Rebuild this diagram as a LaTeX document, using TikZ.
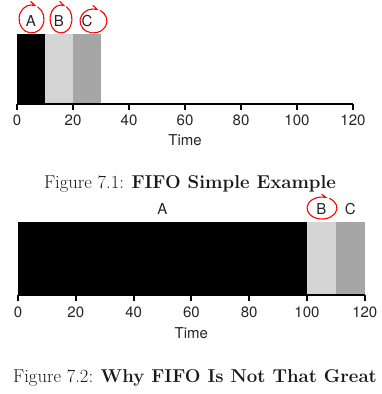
\documentclass[tikz,border=0pt]{standalone}
\usepackage{fontspec}
\setsansfont{TeX Gyre Heros}
\tikzset{
    barA/.style={fill=black},
    barB/.style={fill=black!17},
    barC/.style={fill=black!35},
    axisline/.style={line width=2pt},
    tickmark/.style={line width=2pt},
    ticklabel/.style={font=\sffamily\fontsize{15}{15}\selectfont, text=black!85},
    joblabel/.style={font=\sffamily\fontsize{15}{15}\selectfont, text=black!85},
    redloop/.style={red, line width=1.1pt, line cap=round},
    caption/.style={font=\fontsize{18.6}{18.6}\selectfont, text=black!90}
}
\begin{document}
\begin{tikzpicture}[x=1pt,y=-1pt]
    \useasboundingbox (0,0) rectangle (381,394);
    % first chart
    \begin{scope}[shift={(17,0)}, xscale=2.8]
        \fill[barA] (0,34) rectangle (10,103.5);
        \fill[barB] (10,34) rectangle (20,103.5);
        \fill[barC] (20,34) rectangle (30,103.5);
        \draw[axisline] (0,103.5) -- (120,103.5);
        \foreach \t in {0,20,...,120} {
            \draw[tickmark] (\t,103.5) -- (\t,109.5);
            \node[ticklabel] (ta\t) at (\t,120) {\t};
        }
        \node[ticklabel] (timea) at (60,140) {Time};
        \node[joblabel] (joba) at (5,21) {A};
        \node[joblabel] (jobb) at (15,21) {B};
        \node[joblabel] (jobc) at (25,21) {C};
    \end{scope}
    \draw[redloop] (31.5,19) ++(-60:12.5 and 14) arc[start angle=-60, end angle=285, x radius=12.5, y radius=14] -- ++(-4,-4);
    \draw[redloop] (61,19) ++(-60:11 and 14) arc[start angle=-60, end angle=285, x radius=11, y radius=14] -- ++(-4,-4);
    \draw[redloop] (93.5,21) ++(-60:13.5 and 12) arc[start angle=-60, end angle=285, x radius=13.5, y radius=12] -- ++(-4,-4);
    \node[caption] (capa) at (190,184) {Figure 7.1: \textbf{FIFO Simple Example}};
    % second chart
    \begin{scope}[shift={(18,0)}, xscale=2.89]
        \fill[barA] (0,222) rectangle (100,295);
        \fill[barB] (100,222) rectangle (110,295);
        \fill[barC] (110,222) rectangle (120,295);
        \draw[axisline] (0,295) -- (120,295);
        \foreach \t in {0,20,...,120} {
            \draw[tickmark] (\t,295) -- (\t,301);
            \node[ticklabel] (tb\t) at (\t,312) {\t};
        }
        \node[ticklabel] (timeb) at (60,333) {Time};
        \node[joblabel] (jobba) at (50,209) {A};
        \node[joblabel] (jobbb) at (105,209) {B};
        \node[joblabel] (jobbc) at (115,209) {C};
    \end{scope}
    \draw[redloop] (322,208) ++(-60:15 and 11) arc[start angle=-60, end angle=285, x radius=15, y radius=11] -- ++(-4,-3);
    \node[caption] (capb) at (195,378) {Figure 7.2: \textbf{Why FIFO Is Not That Great}};
\end{tikzpicture}
\end{document}
